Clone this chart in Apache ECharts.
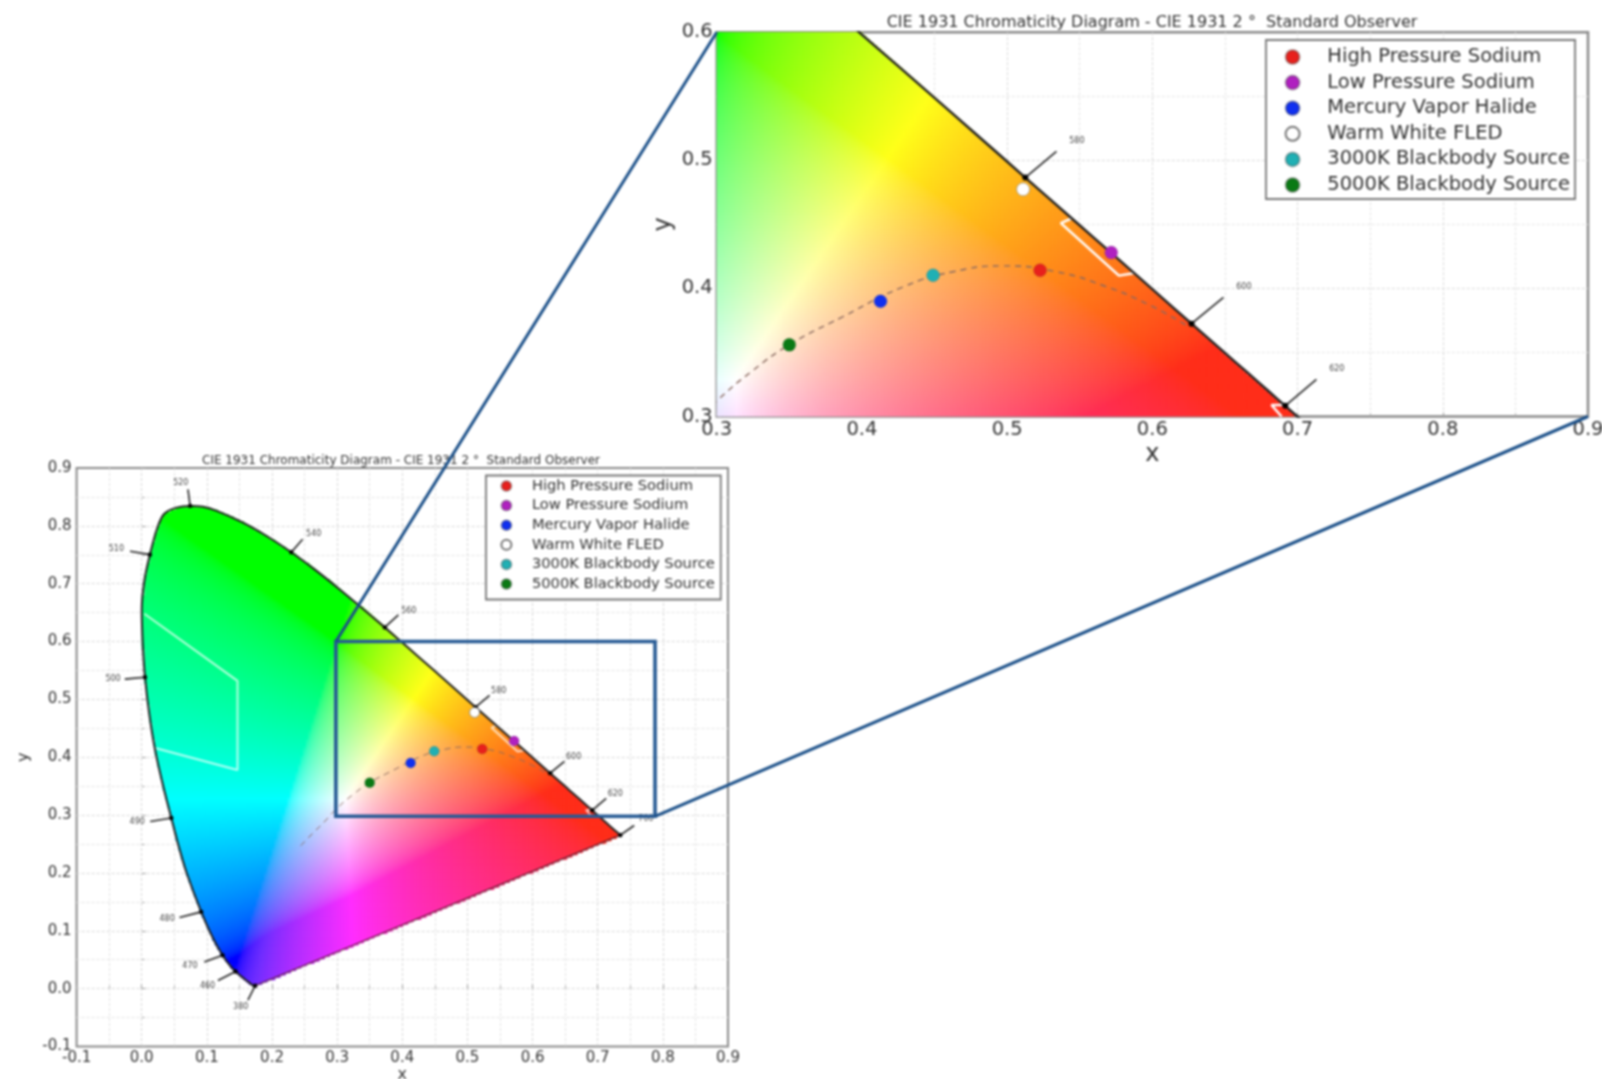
<!DOCTYPE html>
<html><head><meta charset="utf-8">
<style>html,body{margin:0;padding:0;background:#fff}#c{width:1602px;height:1079px;filter:blur(1.1px)}</style>
<script src="https://cdn.jsdelivr.net/npm/echarts@6/dist/echarts.min.js"></script>
</head><body><div id="c"></div>
<script>
// Spectral locus, ending on the purple line
const locusX=[.1741,.1733,.1714,.1689,.1644,.1566,.1440,.1355,.1241,.1096,.0913,.0687,.0567,.0454,.0325,.0205,.0115,.0050,.0015,.0000,.0040,.0125,.0235,.0340,.0520,.0743,.0940,.1142,.1547,.1929,.2296,.2658,.3016,.3373,.3731,.4087,.4441,.4788,.5125,.5448,.5752,.6029,.6270,.6482,.6658,.6801,.6915,.7006,.7079,.7140,.7190,.7260,.7347,.1741];
const locusY=[.0050,.0048,.0051,.0069,.0109,.0177,.0297,.0399,.0578,.0868,.1327,.2007,.2460,.2950,.3520,.4127,.4755,.5384,.5975,.6548,.7050,.7502,.7950,.8200,.8310,.8345,.8330,.8262,.8059,.7816,.7543,.7243,.6923,.6589,.6245,.5896,.5547,.5202,.4866,.4544,.4242,.3965,.3725,.3514,.3340,.3197,.3083,.2993,.2920,.2859,.2809,.2740,.2653,.0050];
// Wavelength annotations
const waveLabels=['380','460','470','480','490','500','510','520','540','560','580','600','620','700'];
const waveX=[.1741,.1440,.1241,.0913,.0454,.0050,.0125,.0743,.2296,.3731,.5125,.6270,.6915,.7347];
const waveY=[.0050,.0297,.0578,.1327,.2950,.5384,.7502,.8345,.7543,.6245,.4866,.3725,.3083,.2653];
const leaderX=[.163,.117,.096,.058,.013,-.026,-.018,.071,.247,.394,.534,.649,.713,.756];
const leaderY=[-.020,.014,.046,.123,.289,.535,.756,.863,.777,.646,.507,.393,.329,.282];
const waveTextX=[.152,.101,.074,.039,-.007,-.044,-.039,.060,.264,.410,.548,.663,.727,.774];
const waveTextY=[-.032,.004,.040,.120,.289,.535,.760,.875,.786,.653,.515,.401,.337,.293];
// Planckian locus
const planckX=[.244,.262,.280,.300,.325,.350,.387,.429,.4627,.4965,.534,.568,.598,.623];
const planckY=[.247,.268,.288,.312,.336,.356,.378,.4015,.413,.4176,.413,.4015,.387,.3715];
// Light sources
const sourceNames=['High Pressure Sodium','Low Pressure Sodium','Mercury Vapor Halide','Warm White FLED','3000K Blackbody Source','5000K Blackbody Source'];
const sourceX=[.5227,.5717,.4128,.511,.449,.35];
const sourceY=[.4142,.428,.39,.4774,.4103,.356];
const sourceColors=['#e8201c','#b020c0','#1030f0','#ffffff','#20b0b4','#0a7a14'];
// White gamut outline fragments
const gamutA=[[.004,.648],[.147,.532],[.147,.378],[.0205,.416]];
const gamutB=[[.545,.455],[.537,.451],[.577,.41],[.588,.412]];
const gamutC=[[.693,.309],[.682,.309],[.689,.30]];
// Zoom rectangle: x0,x1,y0,y1
const zoomBox=[.298,.788,.298,.6];

function inLocus(x,y){let c=false;for(let i=0,j=locusX.length-1;i<locusX.length;j=i++){
  if((locusY[i]>y)!==(locusY[j]>y)&&x<(locusX[j]-locusX[i])*(y-locusY[i])/(locusY[j]-locusY[i])+locusX[i])c=!c;}return c;}
// colour of a chromaticity position (background colouring only, not data)
function chroma(x,y){const X=x/y,Z=(1-x-y)/y;
  let r=3.2406*X-1.5372-.4986*Z,g=-.9689*X+1.8758+.0415*Z,b=.0557*X-.204+1.057*Z;
  r=Math.max(r,0);g=Math.max(g,0);b=Math.max(b,0);const m=Math.max(r,g,b);
  const f=v=>{v/=m;v=v<=.0031308?12.92*v:1.055*Math.pow(v,1/2.4)-.055;return Math.round(255*Math.min(1,v));};
  const R=f(r),G=Math.max(f(g),Math.min(45,R*.4)),B=Math.max(f(b),25*R/255);
  return 'rgb('+R+','+Math.round(G)+','+Math.round(B)+')';}
function cells(x0,x1,y0,y1,s){const o=[];for(let x=x0;x<x1;x+=s)for(let y=y0;y<y1;y+=s){
  if(inLocus(x+s/2,y+s/2))o.push([x,y,s,chroma(x+s/2,y+s/2)]);}return o;}
const fieldSeries=(i,d)=>({type:'custom',xAxisIndex:i,yAxisIndex:i,data:d,clip:true,silent:true,progressive:0,z:1,
  encode:{x:0,y:1},
  renderItem(p,api){const a=api.coord([api.value(0),api.value(1)+api.value(2)]),b=api.coord([api.value(0)+api.value(2),api.value(1)]);
    const c=d[p.dataIndex][3];
    return {type:'rect',shape:{x:a[0],y:a[1],width:b[0]-a[0]+.8,height:b[1]-a[1]+.8},style:{fill:c}};}});
const locusData=locusX.map((x,i)=>[x,locusY[i]]);
const planckData=planckX.map((x,i)=>[x,planckY[i]]);
function buildSeries(i,d,S){
  const inWin=k=>i===0||(waveX[k]>=.3&&waveY[k]>=.3&&waveY[k]<=.6);
  const idx=waveLabels.map((_,k)=>k).filter(inWin);
  const s=[fieldSeries(i,d)];
  [gamutA,gamutB,gamutC].forEach(g=>s.push({type:'line',xAxisIndex:i,yAxisIndex:i,data:g,symbol:'none',silent:true,z:3,
    lineStyle:{color:i?'#fff':'rgba(255,255,255,.7)',width:S.gamut}}));
  s.push({type:'line',xAxisIndex:i,yAxisIndex:i,data:locusData.slice(0,-1),smooth:.3,smoothMonotone:'none',symbol:'none',silent:true,z:4,lineStyle:{color:'#202020',width:S.locus}});
  s.push({type:'line',xAxisIndex:i,yAxisIndex:i,data:locusData.slice(-2),symbol:'none',silent:true,z:4,lineStyle:{color:'#5a2030',width:S.locus*.6}});
  s.push({type:'line',xAxisIndex:i,yAxisIndex:i,data:planckData,smooth:true,symbol:'none',silent:true,z:4,lineStyle:{color:'#8a6a60',width:S.planck,type:[6,5]}});
  const annData=idx.map(k=>[waveX[k],waveY[k],leaderX[k],leaderY[k],waveTextX[k],waveTextY[k],k]);
  s.push({type:'custom',xAxisIndex:i,yAxisIndex:i,data:annData,clip:false,silent:true,z:5,encode:{x:0,y:1},
    renderItem(p,api){const a=api.coord([api.value(0),api.value(1)]),b=api.coord([api.value(2),api.value(3)]),t=api.coord([api.value(4),api.value(5)]);
      return {type:'group',children:[
        {type:'line',shape:{x1:a[0],y1:a[1],x2:b[0],y2:b[1]},style:{stroke:'#222',lineWidth:1.6}},
        {type:'circle',shape:{cx:a[0],cy:a[1],r:S.tick},style:{fill:'#000'}},
        {type:'text',style:{text:waveLabels[api.value(6)],x:t[0],y:t[1],align:'center',verticalAlign:'middle',font:'8px "DejaVu Sans"',fill:'#444'}}]};}});
  sourceNames.forEach((n,k)=>s.push({type:'scatter',name:n,xAxisIndex:i,yAxisIndex:i,data:[[sourceX[k],sourceY[k]]],symbol:'circle',symbolSize:S.dot,z:6,silent:true,
    itemStyle:{color:sourceColors[k],borderColor:k===3?'#777':'rgba(60,60,60,.35)',borderWidth:k===3?(i?.6:.8):.5,opacity:1}}));
  return s;
}
const axisBase=(fs,margin)=>({type:'value',axisLine:{show:false},nameMoveOverlap:false,
  axisTick:{show:true,inside:true,length:4,lineStyle:{color:'#999'}},
  minorTick:{show:true,splitNumber:2,length:3,lineStyle:{color:'#aaa'}},
  splitLine:{show:true,showMinLine:false,showMaxLine:false,lineStyle:{color:'#d8d8d8',type:[3,2],width:1}},
  minorSplitLine:{show:true,lineStyle:{color:'#e4e4e4',type:[3,2],width:1}},
  axisLabel:{fontFamily:'DejaVu Sans',fontSize:fs,margin:margin,color:'#333',formatter:v=>v.toFixed(1)}});
const G0={left:76.6,top:468,width:651.4,height:578.5},G1={left:716.7,top:32.3,width:871.3,height:384.2};
const legendBase=(fs,h,gap,w)=>({data:sourceNames,selectedMode:false,orient:'vertical',backgroundColor:'#fff',borderColor:'#777',borderWidth:1.8,borderRadius:0,
  icon:'circle',itemHeight:h,itemWidth:w,itemGap:gap,textStyle:{fontFamily:'DejaVu Sans',fontSize:fs,color:'#333'},z:20});
const title='CIE 1931 Chromaticity Diagram - CIE 1931 2 °  Standard Observer';
const nameStyle=fs=>({fontFamily:'DejaVu Sans',fontSize:fs,color:'#333'});
const chart=echarts.init(document.getElementById('c'),null,{renderer:'canvas'});
const option={animation:false,backgroundColor:'#fff',
  title:[{text:title,left:396,top:450,textAlign:'center',textStyle:{fontFamily:'DejaVu Sans',fontSize:12,fontWeight:'normal',color:'#333'}},
         {text:title,left:1147,top:10,textAlign:'center',textStyle:{fontFamily:'DejaVu Sans',fontSize:16,fontWeight:'normal',color:'#333'}}],
  grid:[Object.assign({show:true,outerBoundsMode:'none',backgroundColor:'#fff',borderColor:'#8a8a8a',borderWidth:2},G0),Object.assign({show:true,outerBoundsMode:'none',backgroundColor:'#fff',borderColor:'#8a8a8a',borderWidth:2.5},G1)],
  xAxis:[Object.assign(axisBase(15,4),{gridIndex:0,min:-.1,max:.9,interval:.1,name:'x',nameLocation:'middle',nameGap:20,nameTextStyle:nameStyle(16)}),
         Object.assign(axisBase(19.5,3.5),{gridIndex:1,min:.3,max:.9,interval:.1,name:'x',nameLocation:'middle',nameGap:26,nameTextStyle:nameStyle(24)})],
  yAxis:[Object.assign(axisBase(15,5),{gridIndex:0,min:-.1,max:.9,interval:.1,name:'y',nameLocation:'middle',nameGap:45,nameTextStyle:nameStyle(16)}),
         Object.assign(axisBase(19.5,4),{gridIndex:1,min:.3,max:.6,interval:.1,name:'y',nameLocation:'middle',nameGap:41,nameTextStyle:nameStyle(24)})],
  legend:[Object.assign(legendBase(14.7,10,4.6,41),{left:486,top:475.5,padding:[3,6,8,14.4]}),
          Object.assign(legendBase(19.5,14,5.6,59.4),{left:1266,top:40,padding:[7,5,4,18.6]})],
  series:[...buildSeries(0,cells(0,.74,0,.84,.004),{gamut:2,locus:2,planck:1,tick:2.2,dot:10}),
          ...buildSeries(1,cells(.3,.71,.3,.6,.0025),{gamut:2.5,locus:2.4,planck:1.4,tick:3,dot:13})]
};
option.series.push({type:'custom',xAxisIndex:0,yAxisIndex:0,data:[zoomBox],clip:false,silent:true,z:8,encode:{x:[0,1],y:[2,3]},
  renderItem(p,api){const a=api.coord([api.value(0),api.value(3)]),b=api.coord([api.value(1),api.value(2)]);
    return {type:'rect',shape:{x:a[0],y:a[1],width:b[0]-a[0],height:b[1]-a[1]},style:{fill:'none',stroke:'#265a94',lineWidth:3.6}};}});
chart.setOption(option);
const p0=chart.convertToPixel({gridIndex:0},[zoomBox[0],zoomBox[3]]),q0=chart.convertToPixel({gridIndex:1},[.3,.6]);
const p1=chart.convertToPixel({gridIndex:0},[zoomBox[1],zoomBox[2]]),q1=chart.convertToPixel({gridIndex:1},[.9,.3]);
chart.setOption({graphic:[{type:'line',z:30,silent:true,shape:{x1:p0[0],y1:p0[1],x2:q0[0],y2:q0[1]},style:{stroke:'#1a4f88',lineWidth:3}},
  {type:'line',z:30,silent:true,shape:{x1:p1[0],y1:p1[1],x2:q1[0],y2:q1[1]},style:{stroke:'#1a4f88',lineWidth:3}}]});
</script></body></html>
